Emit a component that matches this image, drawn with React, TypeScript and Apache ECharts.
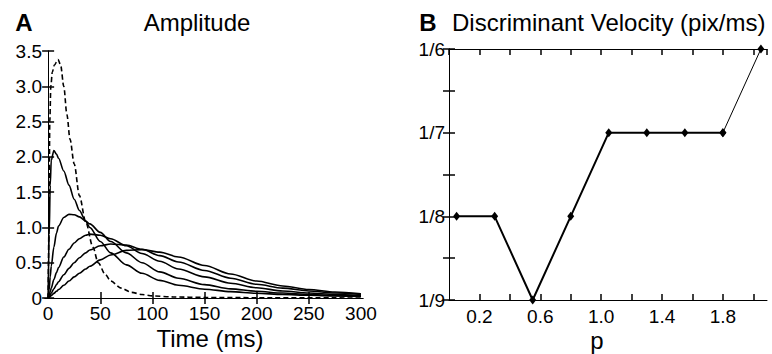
import React, { useEffect, useRef } from "react";
import * as echarts from "echarts";

// ---- Panel A: Amplitude (time in ms) ----
const timeA = [0, 1, 2, 3, 5.5, 8, 10, 15, 20, 25, 30, 36, 40, 50, 60, 75, 90, 107, 125, 150, 175, 200, 225, 250, 275, 300];
const curve1 = [0, 0.9, 1.6, 1.95, 2.09, 2.04, 1.98, 1.8, 1.6, 1.4, 1.24, 1.09, 1.0, 0.8, 0.64, 0.47, 0.35, 0.25, 0.18, 0.125, 0.09, 0.067, 0.05, 0.038, 0.03, 0.022];
const curve2 = [0, 0.12, 0.3, 0.45, 0.72, 0.92, 1.02, 1.14, 1.185, 1.18, 1.15, 1.09, 1.05, 0.93, 0.8, 0.64, 0.5, 0.37, 0.28, 0.19, 0.13, 0.095, 0.07, 0.05, 0.037, 0.027];
const curve3 = [0, 0.04, 0.09, 0.14, 0.26, 0.36, 0.43, 0.58, 0.69, 0.78, 0.84, 0.89, 0.905, 0.89, 0.84, 0.74, 0.63, 0.52, 0.41, 0.3, 0.21, 0.145, 0.1, 0.07, 0.05, 0.035];
const curve4 = [0, 0.02, 0.04, 0.07, 0.13, 0.19, 0.23, 0.33, 0.42, 0.5, 0.57, 0.64, 0.68, 0.74, 0.765, 0.75, 0.69, 0.6, 0.51, 0.39, 0.28, 0.195, 0.14, 0.1, 0.07, 0.05];
const curve5 = [0, 0.01, 0.02, 0.035, 0.065, 0.095, 0.12, 0.18, 0.24, 0.3, 0.35, 0.41, 0.45, 0.54, 0.61, 0.675, 0.685, 0.65, 0.58, 0.46, 0.34, 0.24, 0.17, 0.12, 0.085, 0.06];
const dashedTime = [0, 0.8, 1.6, 2.6, 4, 6, 9.5, 12, 15, 18, 21, 25, 30, 36, 43, 48, 55, 60, 70, 80, 90, 100, 120, 150, 200, 300];
const dashedValues = [0, 1.0, 2.5, 3.0, 3.2, 3.3, 3.38, 3.3, 3.0, 2.6, 2.25, 1.9, 1.45, 1.08, 0.72, 0.5, 0.33, 0.24, 0.14, 0.08, 0.05, 0.03, 0.015, 0.008, 0.004, 0];
const ticksA_x = [0, 50, 100, 150, 200, 250, 300];

// ---- Panel B: Discriminant velocity vs p (value = denominator n of 1/n) ----
const pValues = [0.05, 0.3, 0.55, 0.8, 1.05, 1.3, 1.55, 1.8, 2.05];
const velocityDenom = [8, 8, 9, 8, 7, 7, 7, 7, 6];

const FONT = "Liberation Sans, Arial, Helvetica, sans-serif";

function pairs(xs: number[], ys: number[]) {
  return xs.map((x, i) => [x, ys[i]]);
}

export default function App() {
  const ref = useRef<HTMLDivElement>(null);
  useEffect(() => {
    if (!ref.current) return;
    const chart = echarts.init(ref.current, undefined, { renderer: "svg" });
    const axisLine = { show: true, lineStyle: { color: "#000", width: 1 } };
    const tickStyle = { inside: true, length: 6, lineStyle: { color: "#000", width: 1.5 } };
    const labelStyle = { color: "#000", fontFamily: FONT, fontSize: 19 };
    const solid = (d: number[]) => ({
      type: "line",
      xAxisIndex: 0,
      yAxisIndex: 0,
      data: pairs(timeA, d),
      showSymbol: false,
      smooth: 0.3,
      smoothMonotone: "x",
      lineStyle: { color: "#000", width: 1.6 },
    });
    const option: any = {
      animation: false,
      backgroundColor: "#fff",
      grid: [
        { left: 45, right: 409, top: 51, bottom: 56 },
        { left: 449, right: 5, top: 49, bottom: 54 },
      ],
      xAxis: [
        {
          type: "value", gridIndex: 0, min: -3, max: 302,
          axisLine, splitLine: { show: false },
          axisTick: { ...tickStyle, customValues: ticksA_x.slice(1, 6) },
          axisLabel: { ...labelStyle, margin: 6, customValues: ticksA_x.slice(0, 7) },
        },
        {
          type: "value", gridIndex: 0, min: -3, max: 302, position: "top",
          axisLine, splitLine: { show: false },
          axisTick: { ...tickStyle, customValues: ticksA_x.slice(1, 6) },
          axisLabel: { show: false },
        },
        {
          type: "value", gridIndex: 1, min: 0, max: 2.09, interval: 0.2,
          axisLine, splitLine: { show: false },
          axisTick: { ...tickStyle },
          axisLabel: {
            ...labelStyle, margin: 7, showMinLabel: false, showMaxLabel: false,
            formatter: (v: number) => {
              const k = Math.round(v * 10);
              return k % 4 === 2 ? (v).toFixed(1) : "";
            },
          },
        },
        {
          type: "value", gridIndex: 1, min: 0, max: 2.09, interval: 0.2, position: "top",
          axisLine, splitLine: { show: false },
          axisTick: { ...tickStyle },
          axisLabel: { show: false },
        },
      ],
      yAxis: [
        {
          type: "value", gridIndex: 0, min: 0, max: 3.5, interval: 0.5,
          axisLine, splitLine: { show: false },
          axisTick: { ...tickStyle },
          axisLabel: { ...labelStyle, margin: 3, formatter: (v: number) => (v === 0 ? "0" : v.toFixed(1)) },
        },
        {
          type: "value", gridIndex: 0, min: 0, max: 3.5, interval: 0.5, position: "right",
          axisLine, splitLine: { show: false },
          axisTick: { ...tickStyle },
          axisLabel: { show: false },
        },
        {
          type: "value", gridIndex: 1, min: 6, max: 9, interval: 0.5, inverse: true,
          axisLine, splitLine: { show: false },
          axisTick: { ...tickStyle },
          axisLabel: {
            ...labelStyle, margin: 4,
            formatter: (v: number) => (Number.isInteger(v) ? "1/" + v : ""),
          },
        },
        {
          type: "value", gridIndex: 1, min: 6, max: 9, interval: 0.5, inverse: true, position: "right",
          axisLine, splitLine: { show: false },
          axisTick: { ...tickStyle },
          axisLabel: { show: false },
        },
      ],
      series: [
        solid(curve1),
        solid(curve2),
        solid(curve3),
        solid(curve4),
        solid(curve5),
        {
          type: "line", xAxisIndex: 0, yAxisIndex: 0,
          data: pairs(dashedTime, dashedValues),
          showSymbol: false, smooth: 0.3, smoothMonotone: "x",
          lineStyle: { color: "#000", width: 1.6, type: [5, 3] },
        },
        {
          type: "line", xAxisIndex: 2, yAxisIndex: 2,
          data: pairs(pValues.slice(0, 8), velocityDenom.slice(0, 8)),
          symbol: "diamond", symbolSize: [7, 9],
          itemStyle: { color: "#000" },
          lineStyle: { color: "#000", width: 2 },
        },
        {
          type: "line", xAxisIndex: 2, yAxisIndex: 2,
          data: pairs(pValues.slice(7), velocityDenom.slice(7)),
          symbol: "diamond", symbolSize: [7, 9],
          itemStyle: { color: "#000" },
          lineStyle: { color: "#000", width: 1 },
        },
      ],
      graphic: [
        { type: "text", x: 24, y: 22, style: { text: "A", font: `bold 24px ${FONT}`, fill: "#000", align: "center", verticalAlign: "middle" } },
        { type: "text", x: 197, y: 22, style: { text: "Amplitude", font: `24px ${FONT}`, fill: "#000", align: "center", verticalAlign: "middle" } },
        { type: "text", x: 210, y: 338, style: { text: "Time (ms)", font: `24px ${FONT}`, fill: "#000", align: "center", verticalAlign: "middle" } },
        { type: "text", x: 428, y: 22, style: { text: "B", font: `bold 24px ${FONT}`, fill: "#000", align: "center", verticalAlign: "middle" } },
        { type: "text", x: 452, y: 22, style: { text: "Discriminant Velocity (pix/ms)", font: `24px ${FONT}`, fill: "#000", align: "left", verticalAlign: "middle" } },
        { type: "text", x: 597, y: 340, style: { text: "p", font: `24px ${FONT}`, fill: "#000", align: "center", verticalAlign: "middle" } },
      ],
    };
    chart.setOption(option);
    return () => chart.dispose();
  }, []);
  return <div ref={ref} style={{ position: "fixed", left: 0, top: 0, width: 772, height: 354 }} />;
}
